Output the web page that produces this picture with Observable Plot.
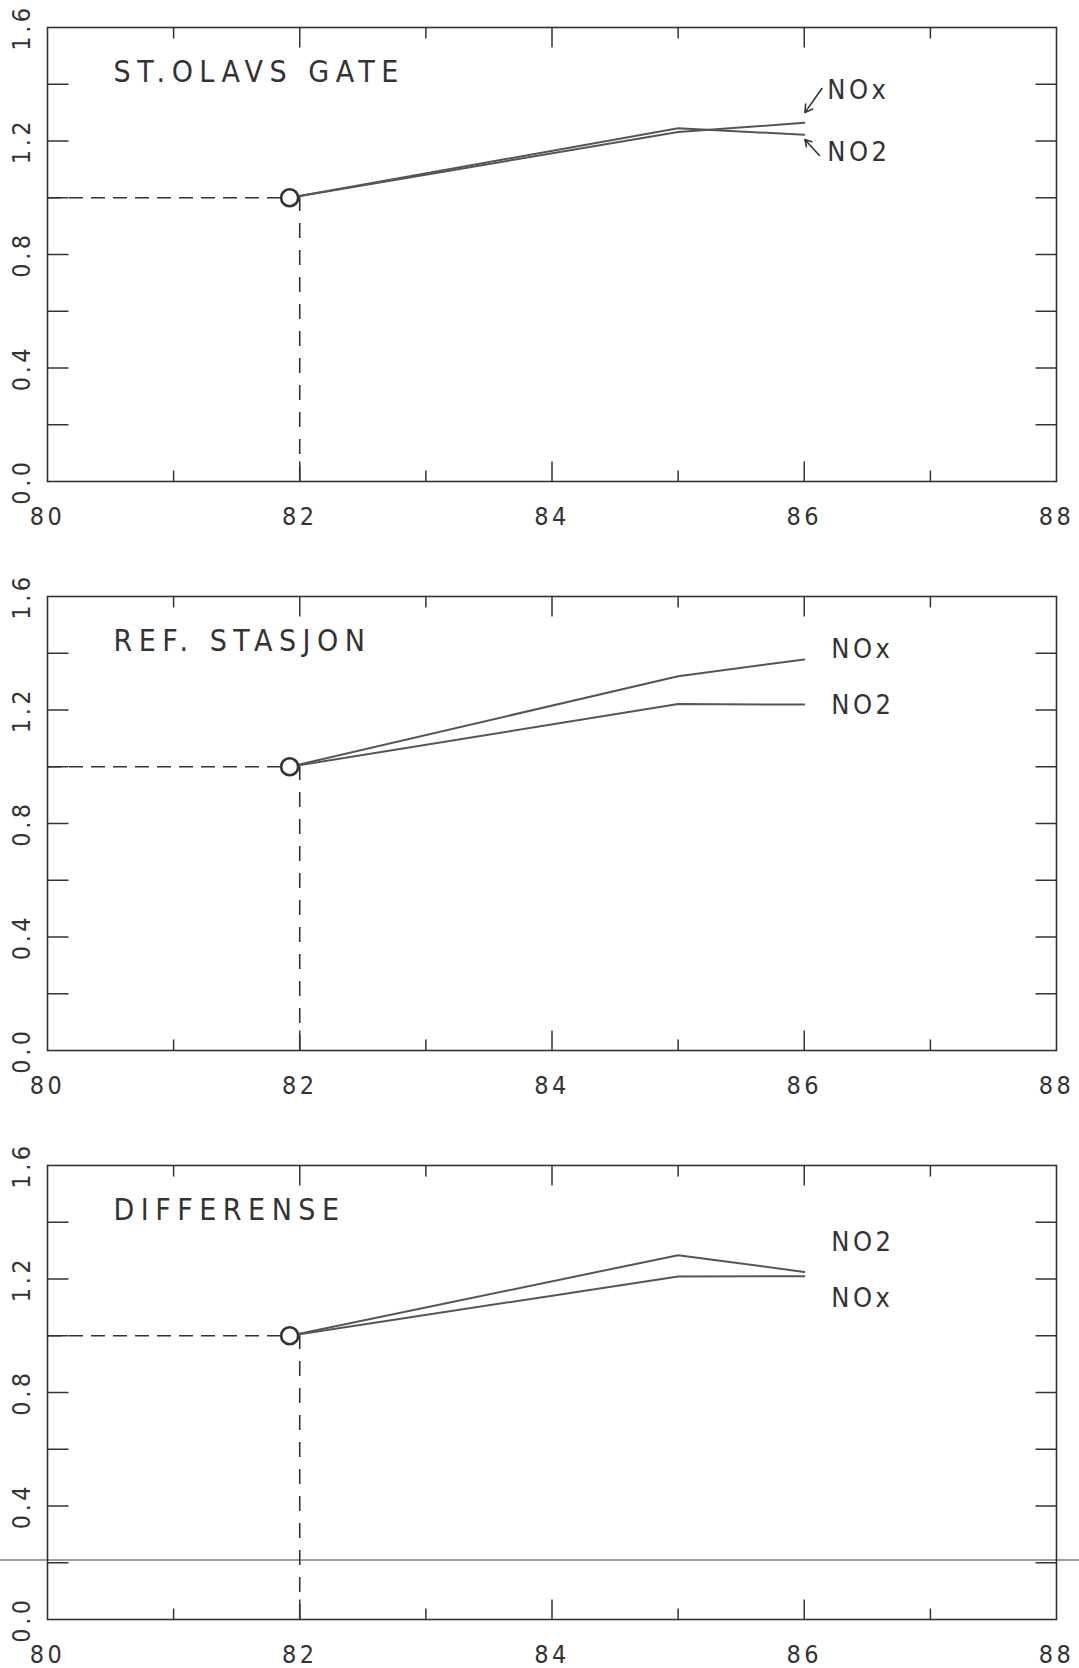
<!DOCTYPE html>
<html><head><meta charset="utf-8">
<script src="https://cdn.jsdelivr.net/npm/d3@7"></script>
<script src="https://cdn.jsdelivr.net/npm/@observablehq/plot@0.6"></script>
<style>
body{margin:0;background:#fff;}
#chart svg{display:block;}
</style></head><body><div id="chart"></div>
<script>
// ---- data ----
const years = [81.92, 85, 86];
const stOlavNOx = [1.0, 1.232, 1.264];
const stOlavNO2 = [1.0, 1.245, 1.222];
const refNOx = [1.0, 1.319, 1.378];
const refNO2 = [1.0, 1.221, 1.219];
const diffNOx = [1.0, 1.209, 1.21];
const diffNO2 = [1.0, 1.284, 1.225];
const panelTitles = ["ST.OLAVS GATE", "REF. STASJON", "DIFFERENSE"];
const seriesNames = ["NOx", "NO2"];
// label heights (value units) for series names at the right end of each panel
const stOlavLabelY = [1.378, 1.16];
const refLabelY = [1.413, 1.215];
const diffLabelY = [1.131, 1.33];
// arrows in first panel (label -> line end)
const stOlavArrows = [
  {x1: 86.14, y1: 1.385, x2: 86.005, y2: 1.30},
  {x1: 86.12, y1: 1.149, x2: 86.005, y2: 1.205}
];
const baseValue = 1.0;
const baseYear = 82;
const xDomain = [80, 88];
const yDomain = [0, 1.6];
const xLabels = [80, 82, 84, 86, 88];
const xMajorTicks = [82, 84, 86];
const xMinorTicks = [81, 83, 85, 87];
const yTicks = [0.2, 0.4, 0.6, 0.8, 1.0, 1.2, 1.4];
const yLabels = [0.0, 0.4, 0.8, 1.2, 1.6];
const scanLine = [0.21];

const panels = [
  {title: panelTitles[0], nox: stOlavNOx, no2: stOlavNO2, labelY: stOlavLabelY, arrows: stOlavArrows, labelDx: 23, scan: false},
  {title: panelTitles[1], nox: refNOx, no2: refNO2, labelY: refLabelY, arrows: [], labelDx: 27, scan: false},
  {title: panelTitles[2], nox: diffNOx, no2: diffNO2, labelY: diffLabelY, arrows: [], labelDx: 27, scan: true}
];

const stick = {draw(context, l) { context.moveTo(0, 0); context.lineTo(0, -l); }};
const FONT = "DejaVu Sans Condensed";
const INK = "#333";

panels.forEach((p, pi) => {
  const rows = [];
  years.forEach((y, i) => {
    rows.push({year: y, value: p.nox[i], series: seriesNames[0]});
    rows.push({year: y, value: p.no2[i], series: seriesNames[1]});
  });
  const labels = seriesNames.map((s, i) => ({name: s, y: p.labelY[i]}));
  const last = pi === panels.length - 1;
  const tickOpts = {shape: stick, anchor: "start", stroke: INK, strokeWidth: 1.5, strokeLinecap: "butt"};
  const plot = Plot.plot({
    width: 1079,
    height: last ? 529 : 569,
    marginTop: 27,
    marginBottom: last ? 48 : 88,
    marginLeft: 47,
    marginRight: 23,
    x: {domain: xDomain, axis: null},
    y: {domain: yDomain, axis: null},
    style: {fontFamily: FONT, background: "white", color: INK},
    marks: [
      p.scan ? Plot.ruleY(scanLine, {stroke: "#a0a0a0", strokeWidth: 2, insetLeft: -47, insetRight: -23}) : null,
      Plot.frame({stroke: INK, strokeWidth: 1.6}),
      // ticks (inward)
      Plot.vector(xMajorTicks, {...tickOpts, x: d => d, frameAnchor: "bottom", length: 20, rotate: 0}),
      Plot.vector(xMinorTicks, {...tickOpts, x: d => d, frameAnchor: "bottom", length: 11, rotate: 0}),
      Plot.vector(xMajorTicks, {...tickOpts, x: d => d, frameAnchor: "top", length: 20, rotate: 180}),
      Plot.vector(xMinorTicks, {...tickOpts, x: d => d, frameAnchor: "top", length: 11, rotate: 180}),
      Plot.vector(yTicks, {...tickOpts, y: d => d, frameAnchor: "left", length: 21, rotate: 90}),
      Plot.vector(yTicks, {...tickOpts, y: d => d, frameAnchor: "right", length: 21, rotate: -90}),
      // tick labels
      Plot.text(xLabels, {x: d => d, text: d => String(d), frameAnchor: "bottom", dy: 35, lineAnchor: "middle", fontSize: 25, fill: INK}),
      Plot.text(yLabels, {y: d => d, text: d => d.toFixed(1), frameAnchor: "left", dx: -26, rotate: -90, lineAnchor: "middle", textAnchor: "middle", fontSize: 25, fill: INK}),
      // reference dashed lines
      Plot.ruleY([baseValue], {x1: xDomain[0], x2: years[0], stroke: INK, strokeWidth: 1.6, strokeDasharray: "14,8"}),
      Plot.ruleX([baseYear], {y1: yDomain[0], y2: baseValue, stroke: INK, strokeWidth: 1.6, strokeDasharray: "15,12"}),
      // series
      Plot.line(rows, {x: "year", y: "value", z: "series", stroke: "#555", strokeWidth: 2}),
      Plot.dot([{year: years[0], value: baseValue}], {x: "year", y: "value", r: 8.5, fill: "white", stroke: INK, strokeWidth: 2.6}),
      // series labels
      Plot.text(labels, {x: () => years[years.length - 1], y: "y", text: "name", dx: p.labelDx, textAnchor: "start", lineAnchor: "middle", fontSize: 27, fill: INK}),
      Plot.arrow(p.arrows, {x1: "x1", y1: "y1", x2: "x2", y2: "y2", stroke: INK, strokeWidth: 1.6, headLength: 8}),
      // title
      Plot.text([p.title], {frameAnchor: "top-left", dx: 66, dy: 45, textAnchor: "start", lineAnchor: "middle", fontSize: 30, fill: INK})
    ]
  });
  d3.select(plot).selectAll("text").each(function() {
    const t = this.textContent;
    d3.select(this).attr("letter-spacing", panelTitles.includes(t) ? "6.5px" : "3.5px");
  });
  document.getElementById("chart").appendChild(plot);
});
</script></body></html>
